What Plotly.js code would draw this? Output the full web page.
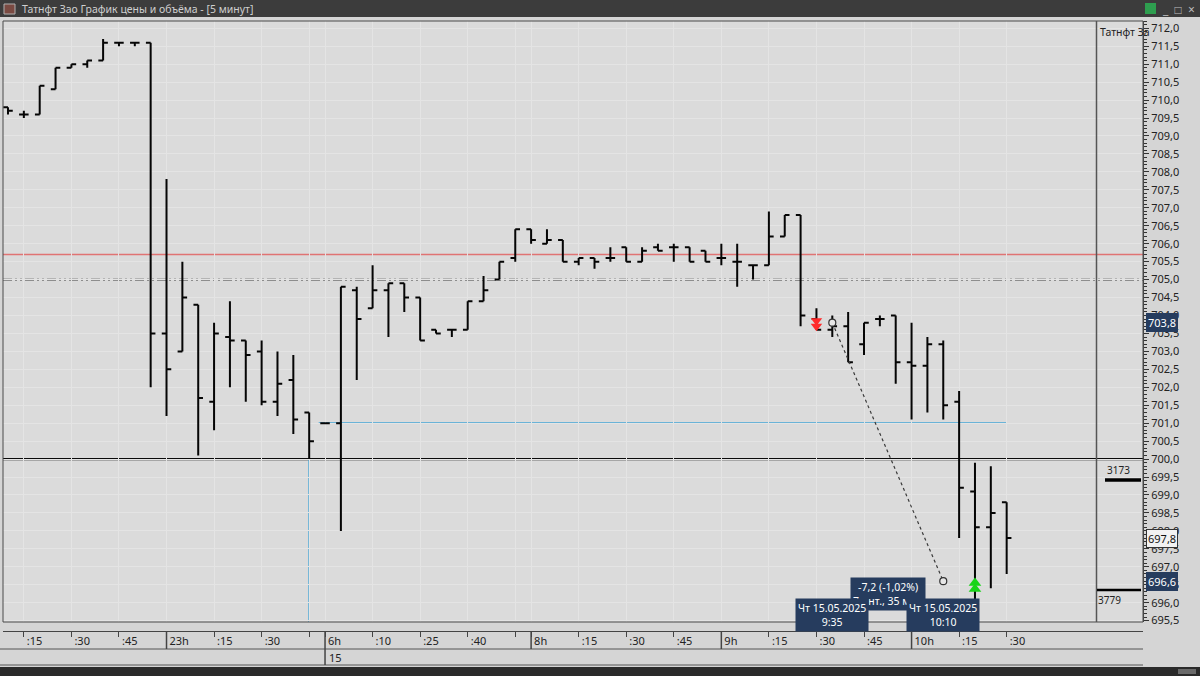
<!DOCTYPE html>
<html><head><meta charset="utf-8">
<script src="https://cdn.plot.ly/plotly-3.0.1.min.js"></script>
<style>html,body{margin:0;padding:0;background:#d4d4d4;overflow:hidden}#chart{width:1200px;height:676px}</style>
</head><body><div id="chart"></div>
<script>
// ---- data (5-minute bars, 14.05 evening session + 15.05 morning) ----
const times = ['22:10','22:15','22:20','22:25','22:30','22:35','22:40','22:45','22:50','22:55',
  '23:00','23:05','23:10','23:15','23:20','23:25','23:30','23:35','23:40','23:45',
  '6:55','7:00','7:05','7:10','7:15','7:20','7:25','7:30','7:35','7:40',
  '7:45','7:50','7:55','8:00','8:05','8:10','8:15','8:20','8:25','8:30',
  '8:35','8:40','8:45','8:50','8:55','9:00','9:05','9:10','9:15','9:20',
  '9:25','9:30','9:35','9:40','9:45','9:50','9:55','10:00','10:05','10:10',
  '10:15','10:20','10:25','10:30'];
const openP  = [709.8,709.6,709.6,710.3,710.9,711.0,711.1,711.6,711.6,711.6,
  703.5,703.0,704.3,701.6,703.4,703.3,703.0,701.6,702.2,701.3,
  701.0,701.0,704.7,704.2,704.7,704.9,704.5,703.6,703.6,703.6,
  704.4,705.0,705.6,706.4,706.0,706.1,705.5,705.6,705.6,705.9,
  705.5,705.9,705.9,705.9,705.8,705.6,705.5,705.4,705.4,706.2,
  706.8,703.9,703.6,703.7,703.2,703.9,704.0,702.7,702.6,703.2,
  701.6,699.1,698.1,698.8];
const highP  = [709.8,709.7,710.4,710.9,711.0,711.1,711.7,711.6,711.6,711.6,
  707.8,705.5,704.3,703.8,704.4,703.3,703.3,703.0,702.9,701.3,
  701.0,704.8,704.8,705.4,704.9,704.9,704.5,703.6,703.6,704.4,
  705.1,705.5,706.4,706.4,706.4,706.1,705.6,705.6,705.9,705.9,
  705.9,706.0,706.0,705.9,705.8,706.0,706.0,705.4,706.9,706.8,
  706.8,704.2,704.0,704.1,703.8,704.0,704.0,703.8,703.4,703.3,
  701.9,699.9,699.8,698.8];
const lowP   = [709.6,709.5,709.6,710.3,710.9,710.9,711.1,711.5,711.5,702.0,
  701.2,703.0,700.1,700.8,702.0,701.6,701.5,701.2,700.7,700.0,
  701.0,698.0,702.2,704.2,703.4,704.1,703.3,703.5,703.4,703.6,
  704.4,705.0,705.5,706.0,706.0,705.5,705.4,705.3,705.5,705.5,
  705.5,705.8,705.5,705.5,705.5,705.4,704.8,705.0,705.4,706.2,
  703.7,703.6,703.4,702.7,702.9,703.7,702.1,701.1,701.3,701.1,
  697.8,696.0,696.4,696.8];
const closeP = [709.7,709.6,710.4,710.9,711.0,711.1,711.6,711.6,711.6,703.5,
  702.5,704.5,701.7,703.5,703.3,702.9,701.6,702.1,701.1,700.5,
  701.0,704.8,703.9,704.7,704.9,704.5,703.3,703.5,703.6,704.4,
  704.7,705.5,706.4,706.1,706.1,705.5,705.6,705.5,705.6,705.5,
  705.8,705.8,705.9,705.5,705.5,705.6,705.5,705.4,706.2,706.8,
  704.0,703.6,703.7,702.7,703.8,703.9,702.7,702.6,703.2,701.5,
  699.2,698.1,698.5,697.8];

const tickIdx  = [1,4,7,10,13,16,19,20,23,26,29,32,33,36,39,42,45,48,51,54,57,60,63];
const tickText = [':15',':30',':45','23h',':15',':30','','6h',':10',':25',':40','','8h',':15',':30',':45','9h',':15',':30',':45','10h',':15',':30'];
const hourIdx  = [10,20,33,45,57];
const dayIdx   = [20];
const dayText  = ['15'];

const redLevel = 705.7;
const dashLevel = 705.0;
const blackLevel = 700.0;
const blueLevel = 701.0;
const blueFrom = 20, blueTo = 63;
const blueVertIdx = 19, blueVertTop = 700.0;

const measureIdx = [52, 59];
const measurePrice = [703.8, 696.6];
const measureText = '-7,2 (-1,02%)<br>7 инт., 35 мин';
const measureDates = ['Чт 15.05.2025<br>9:35', 'Чт 15.05.2025<br>10:10'];

const sellIdx = [51, 51], sellPrice = [703.85, 703.7];
const buyIdx = [61, 61], buyPrice = [696.55, 696.38];

const volPrice = [699.42, 696.35];
const volText = ['3173', '3779'];

const axisMarks = [703.8, 697.8, 696.6];
const axisMarkStyle = ['navy', 'white', 'navy'];

const windowTitle = 'Татнфт Зао График цены и объёма - [5 минут]';
const panelTitle = 'Татнфт За';

// ---- layout helpers (pixel -> paper) ----
const W = 1200, H = 676, ML = 3, MR = 57, MT = 21, MB = 45;
const PW = W - ML - MR, PH = H - MT - MB;
const px = X => (X - ML) / PW;
const py = Y => (H - MB - Y) / PH;

const xIdx = times.map((t, i) => i);
const FONT = 'Noto Sans, Open Sans, sans-serif';

const traces = [
  {type: 'ohlc', x: xIdx, open: openP, high: highP, low: lowP, close: closeP,
   text: times, hoverinfo: 'skip', tickwidth: 0.3,
   increasing: {line: {color: '#050505', width: 2}},
   decreasing: {line: {color: '#050505', width: 2}}, showlegend: false},
  {type: 'scatter', mode: 'lines+markers', x: measureIdx, y: measurePrice,
   line: {color: '#3a3a3a', width: 1.2, dash: 'dot'},
   marker: {symbol: 'circle', size: 7, color: '#e6e6e6', line: {color: '#333', width: 1.2}},
   hoverinfo: 'skip', showlegend: false},
  {type: 'scatter', mode: 'markers', x: sellIdx, y: sellPrice,
   marker: {symbol: 'triangle-down', size: 10, color: '#ff2a2a', line: {width: 0}},
   hoverinfo: 'skip', showlegend: false},
  {type: 'scatter', mode: 'markers', x: buyIdx, y: buyPrice,
   marker: {symbol: 'triangle-up', size: 11, color: '#19d419', line: {width: 0}},
   hoverinfo: 'skip', showlegend: false}
];

const yDomLow = py(622);
const shapes = [
  // title bar
  {type: 'rect', xref: 'paper', yref: 'paper', x0: px(0), x1: px(1200), y0: py(17), y1: py(0),
   fillcolor: '#3c3c3c', line: {width: 0}, layer: 'above'},
  {type: 'rect', xref: 'paper', yref: 'paper', x0: px(4), x1: px(15), y0: py(14), y1: py(4),
   fillcolor: '#7a4a42', line: {color: '#b0b0b0', width: 1}, layer: 'above'},
  {type: 'rect', xref: 'paper', yref: 'paper', x0: px(1145), x1: px(1156), y0: py(14), y1: py(3),
   fillcolor: '#2e9e4f', line: {width: 0}, layer: 'above'},
  // bottom dark strip
  {type: 'rect', xref: 'paper', yref: 'paper', x0: px(0), x1: px(1200), y0: py(676), y1: py(667),
   fillcolor: '#2a2a2a', line: {width: 0}, layer: 'above'},
  {type: 'rect', xref: 'paper', yref: 'paper', x0: px(1178), x1: px(1196), y0: py(674), y1: py(669),
   fillcolor: '#6a6a6a', line: {width: 0}, layer: 'above'},
  // axis rows
  {type: 'line', xref: 'paper', yref: 'paper', x0: px(0), x1: 1, y0: py(649), y1: py(649),
   line: {color: '#555', width: 1}},
  {type: 'line', xref: 'paper', yref: 'paper', x0: px(0), x1: 1, y0: py(665), y1: py(665),
   line: {color: '#555', width: 1}},
  // plot border
  {type: 'rect', xref: 'paper', yref: 'paper', x0: 0, x1: 1, y0: yDomLow, y1: 1,
   fillcolor: 'rgba(0,0,0,0)', line: {color: '#4a4a4a', width: 1}, layer: 'above'},
  // volume panel divider
  {type: 'line', xref: 'paper', yref: 'paper', x0: px(1096.5), x1: px(1096.5), y0: yDomLow, y1: 1,
   line: {color: '#555', width: 1.5}, layer: 'above'},
  // levels
  {type: 'line', xref: 'paper', yref: 'y', x0: 0, x1: 1, y0: redLevel, y1: redLevel,
   line: {color: '#e07373', width: 1.5}, layer: 'below'},
  {type: 'line', xref: 'paper', yref: 'y', x0: 0, x1: 1, y0: dashLevel, y1: dashLevel,
   line: {color: '#404040', width: 1.6, dash: '9px,3px,2px,3px,2px,3px'}, layer: 'below'},
  {type: 'line', xref: 'paper', yref: 'y', x0: 0, x1: 1, y0: blackLevel, y1: blackLevel,
   line: {color: '#0a0a0a', width: 2.2}, layer: 'below'},
  {type: 'line', xref: 'x', yref: 'y', x0: blueFrom - 0.4, x1: blueTo, y0: blueLevel, y1: blueLevel,
   line: {color: '#45a6d6', width: 1.7}, layer: 'below'},
  // volume profile bars
  {type: 'line', xref: 'paper', yref: 'y', x0: px(1105), x1: px(1141), y0: volPrice[0], y1: volPrice[0],
   line: {color: '#000', width: 3.5}},
  {type: 'line', xref: 'paper', yref: 'y', x0: px(1097), x1: px(1141), y0: volPrice[1], y1: volPrice[1],
   line: {color: '#000', width: 2.5}}
];
// blue vertical from the level down to the bottom of the panel
shapes.push({type: 'line', xref: 'x', yref: 'y', x0: blueVertIdx, x1: blueVertIdx,
  y0: blueVertTop, y1: 695.0, line: {color: '#45a6d6', width: 1.7}, layer: 'below'});
// hour separators in the time row
hourIdx.forEach(i => shapes.push({type: 'line', xref: 'x', yref: 'paper', x0: i, x1: i,
  y0: 0, y1: py(649), line: {color: '#444', width: 1.5}}));
dayIdx.forEach(i => shapes.push({type: 'line', xref: 'x', yref: 'paper', x0: i, x1: i,
  y0: py(649), y1: py(665), line: {color: '#444', width: 1.5}}));

const annotations = [
  {xref: 'paper', yref: 'paper', x: px(20), y: py(8.5), xanchor: 'left', yanchor: 'middle',
   text: windowTitle, showarrow: false, font: {family: FONT, size: 10.5, color: '#cfcfcf'}},
  {xref: 'paper', yref: 'paper', x: px(1160), y: py(9), xanchor: 'left', yanchor: 'middle',
   text: '_&nbsp;&nbsp;□&nbsp;&nbsp;×', showarrow: false, font: {family: FONT, size: 12, color: '#bdbdbd'}},
  {xref: 'paper', yref: 'paper', x: px(1098), y: py(32), xanchor: 'left', yanchor: 'middle',
   text: panelTitle, showarrow: false, font: {family: FONT, size: 10.5, color: '#222'}},
  {xref: 'paper', yref: 'y', x: px(1105), y: volPrice[0], xanchor: 'left', yanchor: 'bottom',
   text: volText[0], showarrow: false, font: {family: FONT, size: 10, color: '#222'}, yshift: 1},
  {xref: 'paper', yref: 'y', x: px(1096), y: volPrice[1], xanchor: 'left', yanchor: 'top',
   text: volText[1], showarrow: false, font: {family: FONT, size: 10, color: '#222'}, yshift: -1}
];
dayIdx.forEach((i, k) => annotations.push({xref: 'x', yref: 'paper', x: i, y: py(657),
  xanchor: 'left', yanchor: 'middle', xshift: 2, text: dayText[k], showarrow: false,
  font: {family: FONT, size: 11, color: '#222'}}));
// measurement tooltips
annotations.push({xref: 'x', yref: 'paper', x: (measureIdx[0] + measureIdx[1]) / 2, y: py(594),
  xanchor: 'center', yanchor: 'middle', text: measureText, showarrow: false, align: 'center',
  bgcolor: '#263c5e', borderpad: 2, font: {family: FONT, size: 10.5, color: '#ffffff'}});
measureDates.forEach((t, k) => annotations.push({xref: 'x', yref: 'paper', x: measureIdx[k],
  y: py(615), xanchor: 'center', yanchor: 'middle', text: t, showarrow: false, align: 'center',
  bgcolor: '#263c5e', borderpad: 2, font: {family: FONT, size: 10.5, color: '#ffffff'}}));
// highlighted axis labels
axisMarks.forEach((v, k) => annotations.push({xref: 'paper', yref: 'y', x: px(1146), y: v,
  xanchor: 'left', yanchor: 'middle', text: v.toFixed(1).replace('.', ','), showarrow: false,
  bgcolor: axisMarkStyle[k] === 'navy' ? '#263c5e' : '#f2f2f2',
  bordercolor: axisMarkStyle[k] === 'navy' ? '#263c5e' : '#333', borderwidth: 1, borderpad: 1,
  font: {family: FONT, size: 11, color: axisMarkStyle[k] === 'navy' ? '#fff' : '#111'}}));

const layout = {
  width: W, height: H,
  margin: {l: ML, r: MR, t: MT, b: MB, pad: 0},
  paper_bgcolor: '#d5d5d5', plot_bgcolor: '#dbdbdb',
  separators: ', ',
  font: {family: FONT, size: 11, color: '#222'},
  showlegend: false,
  xaxis: {range: [-0.315, 71.6], anchor: 'free', position: 0, domain: [0, 1],
    rangeslider: {visible: false}, tickmode: 'array', tickvals: tickIdx, ticktext: tickText,
    ticks: 'outside', ticklen: 5, tickcolor: '#444', tickwidth: 1,
    ticklabelposition: 'outside right', ticklabelshift: 2,
    tickfont: {family: FONT, size: 11, color: '#222'},
    showgrid: true, gridcolor: '#e4e4e4', gridwidth: 1, zeroline: false,
    showline: true, linecolor: '#444', linewidth: 1, fixedrange: true},
  yaxis: {range: [695.462, 712.203], domain: [yDomLow, 1], side: 'right', anchor: 'x',
    dtick: 0.5, tick0: 695.5, tickformat: '.1f', ticks: 'outside', ticklen: 5, tickcolor: '#333',
    minor: {dtick: 0.1, ticks: 'outside', ticklen: 3, tickcolor: '#333', showgrid: false},
    tickfont: {family: FONT, size: 11, color: '#222'},
    showgrid: true, gridcolor: '#e4e4e4', gridwidth: 1, zeroline: false,
    showline: true, linecolor: '#444', linewidth: 1, fixedrange: true},
  shapes: shapes, annotations: annotations
};

Plotly.newPlot('chart', traces, layout, {displayModeBar: false, staticPlot: true});
</script></body></html>
